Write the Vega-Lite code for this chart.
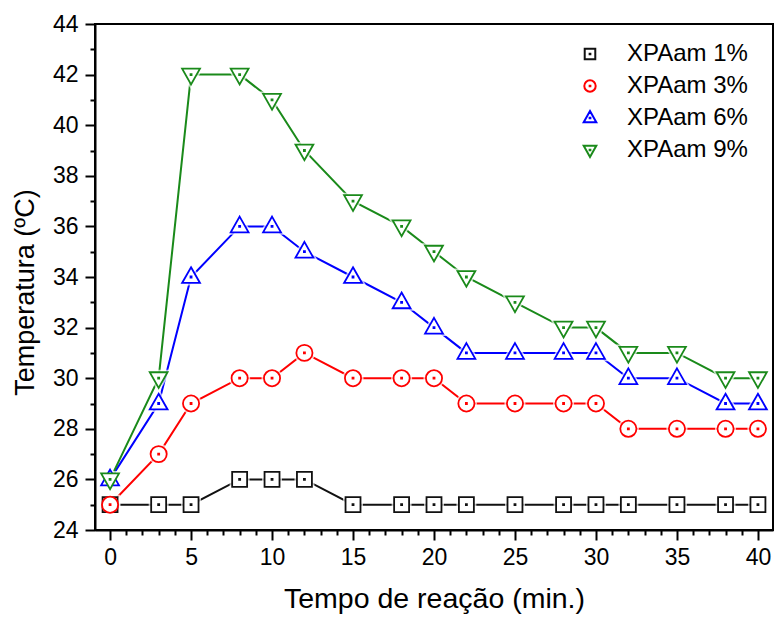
{
  "$schema": "https://vega.github.io/schema/vega-lite/v6.json",
  "autosize": "none",
  "width": 678,
  "height": 506,
  "padding": {"left": 95, "top": 24, "right": 1, "bottom": 87},
  "background": "white",
  "config": {
    "view": {"stroke": "black", "strokeWidth": 2},
    "font": "Liberation Sans",
    "axis": {"grid": false, "domainColor": "black", "tickColor": "black", "labelColor": "black", "titleColor": "black", "labelFont": "Liberation Sans", "titleFont": "Liberation Sans"}
  },
  "data": {
    "values": [
      {"t": 0, "series": "XPAam 1%", "temp": 25}, {"t": 3, "series": "XPAam 1%", "temp": 25}, {"t": 5, "series": "XPAam 1%", "temp": 25}, {"t": 8, "series": "XPAam 1%", "temp": 26}, {"t": 10, "series": "XPAam 1%", "temp": 26}, {"t": 12, "series": "XPAam 1%", "temp": 26}, {"t": 15, "series": "XPAam 1%", "temp": 25}, {"t": 18, "series": "XPAam 1%", "temp": 25}, {"t": 20, "series": "XPAam 1%", "temp": 25}, {"t": 22, "series": "XPAam 1%", "temp": 25}, {"t": 25, "series": "XPAam 1%", "temp": 25}, {"t": 28, "series": "XPAam 1%", "temp": 25}, {"t": 30, "series": "XPAam 1%", "temp": 25}, {"t": 32, "series": "XPAam 1%", "temp": 25}, {"t": 35, "series": "XPAam 1%", "temp": 25}, {"t": 38, "series": "XPAam 1%", "temp": 25}, {"t": 40, "series": "XPAam 1%", "temp": 25},
      {"t": 0, "series": "XPAam 3%", "temp": 25}, {"t": 3, "series": "XPAam 3%", "temp": 27}, {"t": 5, "series": "XPAam 3%", "temp": 29}, {"t": 8, "series": "XPAam 3%", "temp": 30}, {"t": 10, "series": "XPAam 3%", "temp": 30}, {"t": 12, "series": "XPAam 3%", "temp": 31}, {"t": 15, "series": "XPAam 3%", "temp": 30}, {"t": 18, "series": "XPAam 3%", "temp": 30}, {"t": 20, "series": "XPAam 3%", "temp": 30}, {"t": 22, "series": "XPAam 3%", "temp": 29}, {"t": 25, "series": "XPAam 3%", "temp": 29}, {"t": 28, "series": "XPAam 3%", "temp": 29}, {"t": 30, "series": "XPAam 3%", "temp": 29}, {"t": 32, "series": "XPAam 3%", "temp": 28}, {"t": 35, "series": "XPAam 3%", "temp": 28}, {"t": 38, "series": "XPAam 3%", "temp": 28}, {"t": 40, "series": "XPAam 3%", "temp": 28},
      {"t": 0, "series": "XPAam 6%", "temp": 26}, {"t": 3, "series": "XPAam 6%", "temp": 29}, {"t": 5, "series": "XPAam 6%", "temp": 34}, {"t": 8, "series": "XPAam 6%", "temp": 36}, {"t": 10, "series": "XPAam 6%", "temp": 36}, {"t": 12, "series": "XPAam 6%", "temp": 35}, {"t": 15, "series": "XPAam 6%", "temp": 34}, {"t": 18, "series": "XPAam 6%", "temp": 33}, {"t": 20, "series": "XPAam 6%", "temp": 32}, {"t": 22, "series": "XPAam 6%", "temp": 31}, {"t": 25, "series": "XPAam 6%", "temp": 31}, {"t": 28, "series": "XPAam 6%", "temp": 31}, {"t": 30, "series": "XPAam 6%", "temp": 31}, {"t": 32, "series": "XPAam 6%", "temp": 30}, {"t": 35, "series": "XPAam 6%", "temp": 30}, {"t": 38, "series": "XPAam 6%", "temp": 29}, {"t": 40, "series": "XPAam 6%", "temp": 29},
      {"t": 0, "series": "XPAam 9%", "temp": 26}, {"t": 3, "series": "XPAam 9%", "temp": 30}, {"t": 5, "series": "XPAam 9%", "temp": 42}, {"t": 8, "series": "XPAam 9%", "temp": 42}, {"t": 10, "series": "XPAam 9%", "temp": 41}, {"t": 12, "series": "XPAam 9%", "temp": 39}, {"t": 15, "series": "XPAam 9%", "temp": 37}, {"t": 18, "series": "XPAam 9%", "temp": 36}, {"t": 20, "series": "XPAam 9%", "temp": 35}, {"t": 22, "series": "XPAam 9%", "temp": 34}, {"t": 25, "series": "XPAam 9%", "temp": 33}, {"t": 28, "series": "XPAam 9%", "temp": 32}, {"t": 30, "series": "XPAam 9%", "temp": 32}, {"t": 32, "series": "XPAam 9%", "temp": 31}, {"t": 35, "series": "XPAam 9%", "temp": 31}, {"t": 38, "series": "XPAam 9%", "temp": 30}, {"t": 40, "series": "XPAam 9%", "temp": 30}
    ]
  },
  "layer": [
    {
      "mark": {"type": "point", "filled": false, "fill": "white", "opacity": 0, "strokeWidth": 2, "size": 144},
      "encoding": {
        "x": {"field": "t", "type": "quantitative", "scale": {"domain": [-0.93, 40.93], "nice": false, "zero": false},
          "axis": {"orient": "bottom", "values": [0, 5, 10, 15, 20, 25, 30, 35, 40], "tickSize": 10, "tickWidth": 2, "domainWidth": 2, "labelFontSize": 23, "labelPadding": 6, "title": "Tempo de reação (min.)", "titleFontSize": 28.5, "titleFontWeight": "normal", "titleBaseline": "alphabetic", "titleY": 77}},
        "y": {"field": "temp", "type": "quantitative", "scale": {"domain": [24, 44], "nice": false, "zero": false},
          "axis": {"orient": "left", "values": [24, 26, 28, 30, 32, 34, 36, 38, 40, 42, 44], "tickSize": 10, "tickWidth": 2, "domainWidth": 2, "labelFontSize": 23, "labelPadding": 7, "title": "Temperatura (ºC)", "titleFontSize": 27, "titleFontWeight": "normal", "titleX": -70, "titleY": 268, "titleBaseline": "middle"}},
        "color": {"field": "series", "type": "nominal", "scale": {"domain": ["XPAam 1%", "XPAam 3%", "XPAam 6%", "XPAam 9%"], "range": ["#111111", "#ff0000", "#0000ff", "#1a8a1a"]},
          "legend": {"orient": "none", "legendX": 483, "legendY": 18, "title": null, "labelFontSize": 24, "labelFont": "Liberation Sans", "labelColor": "black", "labelOffset": 25, "symbolSize": 144, "symbolStrokeWidth": 2, "rowPadding": 8,
            "encode": {"symbols": {"fill": {"value": "white"}, "opacity": {"value": 1}, "strokeWidth": {"value": 2}, "size": {"value": 144}, "shape": {"value": {"expr": "datum.value == 'XPAam 1%' ? 'M-5,0H-1.5M1.5,0H5M-1.05,-1.05H1.05V1.05H-1.05ZM-0.08,-0.08H0.08V0.08H-0.08Z' : datum.value == 'XPAam 3%' ? 'M-5,0H-1.5M1.5,0H5M-1.1,0A1.1,1.1 0 1,0 1.1,0A1.1,1.1 0 1,0 -1.1,0ZM-0.08,-0.08H0.08V0.08H-0.08Z' : datum.value == 'XPAam 6%' ? 'M-5,0H-1.6M1.6,0H5M0,-1.35L1.25,0.85H-1.25ZM-0.08,0.02H0.08V0.18H-0.08Z' : 'M-5,0H-1.6M1.6,0H5M-1.25,-0.85H1.25L0,1.35ZM-0.08,-0.18H0.08V-0.02H-0.08Z'"}}}}}},
        "shape": {"field": "series", "type": "nominal", "scale": {"domain": ["XPAam 1%", "XPAam 3%", "XPAam 6%", "XPAam 9%"], "range": ["M-0.88,-0.88H0.88V0.88H-0.88ZM-0.06,-0.06H0.06V0.06H-0.06Z", "M-0.95,0A0.95,0.95 0 1,0 0.95,0A0.95,0.95 0 1,0 -0.95,0ZM-0.06,-0.06H0.06V0.06H-0.06Z", "M0,-1.15L1.05,0.7H-1.05ZM-0.06,-0.06H0.06V0.06H-0.06Z", "M-1.05,-0.7H1.05L0,1.15ZM-0.06,-0.06H0.06V0.06H-0.06Z"]}}
      }
    },
    {
      "mark": {"type": "line", "strokeWidth": 2},
      "encoding": {
        "x": {"field": "t", "type": "quantitative", "axis": null},
        "y": {"field": "temp", "type": "quantitative", "axis": null},
        "color": {"field": "series", "type": "nominal"}
      }
    },
    {
      "mark": {"type": "point", "filled": false, "fill": "white", "stroke": "white", "strokeWidth": 5, "size": 289},
      "encoding": {
        "x": {"field": "t", "type": "quantitative", "axis": null},
        "y": {"field": "temp", "type": "quantitative", "axis": null},
        "shape": {"field": "series", "type": "nominal"}
      }
    },
    {
      "mark": {"type": "point", "filled": false, "fill": "white", "fillOpacity": 1, "opacity": 1, "strokeWidth": 1.8, "size": 289},
      "encoding": {
        "x": {"field": "t", "type": "quantitative",
          "axis": {"orient": "bottom", "values": [1, 2, 3, 4, 6, 7, 8, 9, 11, 12, 13, 14, 16, 17, 18, 19, 21, 22, 23, 24, 26, 27, 28, 29, 31, 32, 33, 34, 36, 37, 38, 39], "tickSize": 5, "tickWidth": 2, "domain": false, "labels": false, "title": null}},
        "y": {"field": "temp", "type": "quantitative",
          "axis": {"orient": "left", "values": [25, 27, 29, 31, 33, 35, 37, 39, 41, 43], "tickSize": 5, "tickWidth": 2, "domain": false, "labels": false, "title": null}},
        "color": {"field": "series", "type": "nominal"},
        "shape": {"field": "series", "type": "nominal"}
      }
    }
  ],
  "resolve": {"axis": {"x": "independent", "y": "independent"}}
}
